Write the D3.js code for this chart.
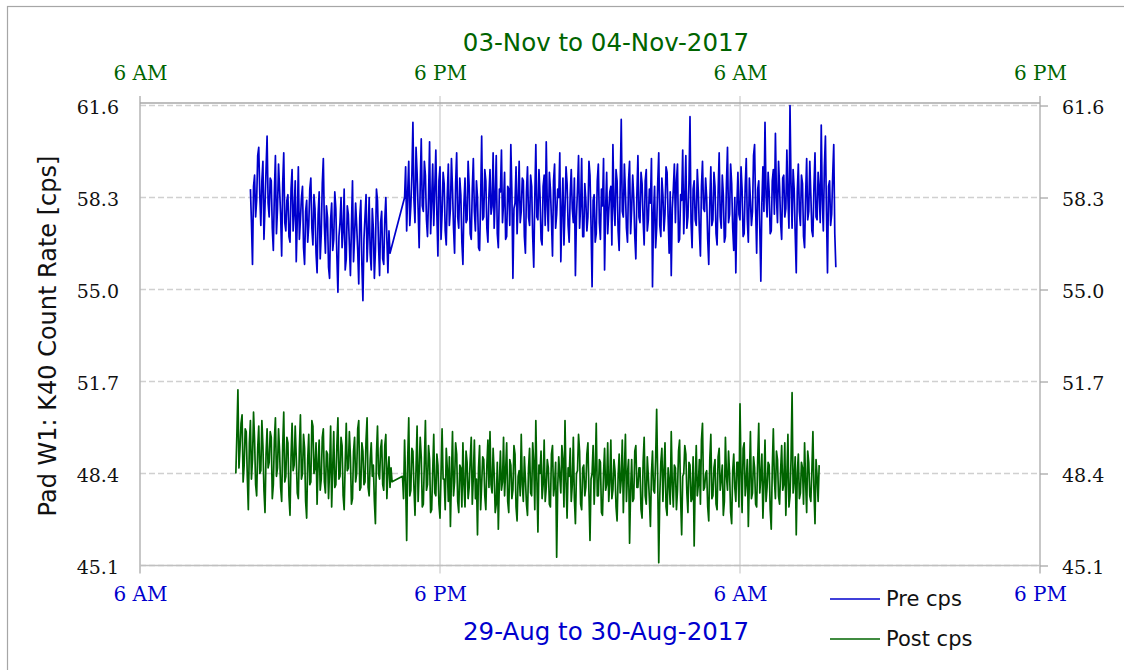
<!DOCTYPE html>
<html><head><meta charset="utf-8">
<script src="https://cdn.jsdelivr.net/npm/d3@7"></script>
<style>body{margin:0;background:#fff}svg{display:block}</style>
</head><body><svg id="c" width="1124" height="670"></svg>
<script>
// ---------- DATA ----------
const stepSeconds = 150;
const preStarts = ["2017-08-29 10:25", "2017-08-29 16:35"];
const preA = [58.6,57.4,55.9,58.7,59.1,57.6,58.2,59.8,60.1,58.4,57.3,58.9,59.6,56.8,58.0,59.3,60.5,58.1,57.6,59.0,
58.9,57.2,56.4,58.5,59.8,57.0,57.9,59.5,58.6,57.7,56.2,58.8,59.9,57.4,57.1,58.2,58.4,56.9,56.7,58.6,
59.3,57.1,57.8,58.9,56.0,57.5,59.4,56.8,57.5,58.3,58.7,56.5,55.9,57.8,58.2,56.7,57.3,58.6,59.0,57.2,
56.6,58.4,57.9,56.3,55.6,57.7,58.5,56.1,57.0,58.8,59.7,57.3,56.3,58.0,57.6,55.8,55.4,57.5,58.1,56.4,
56.8,58.5,57.9,56.2,54.9,56.9,57.4,58.3,56.5,57.1,58.6,55.7,56.1,58.0,57.7,56.6,55.5,57.3,58.9,56.0,
56.9,58.1,57.3,56.4,55.2,57.6,58.2,55.9,54.6,56.8,57.6,58.4,56.0,57.0,58.3,56.3,55.7,57.9,57.2,55.4,
56.4,58.6,58.2,56.6,55.5,57.4,57.8,56.1,55.9,57.5,58.3,56.8,55.6,57.1,56.3];
const preB = [58.3,59.4,57.1,58.5,59.6,57.3,58.0,59.1,61.0,58.2,57.4,60.1,59.2,57.9,56.5,58.7,60.4,58.0,57.8,59.6,
59.1,57.5,56.9,58.3,60.3,57.0,58.2,59.5,57.3,58.6,60.0,57.7,56.2,58.9,59.4,56.8,57.7,59.2,58.8,57.1,
56.6,58.4,59.5,57.3,57.9,59.7,58.6,57.2,56.3,58.8,59.9,57.6,57.2,59.0,58.4,56.7,55.9,58.1,59.0,57.4,
57.5,59.6,58.7,57.0,56.8,58.6,59.7,57.8,57.1,58.9,58.3,56.5,56.4,58.2,60.5,57.5,57.6,59.3,58.9,57.2,
56.7,58.4,59.3,57.7,58.0,59.9,57.2,58.3,59.8,57.0,56.5,58.6,58.5,60.0,57.4,58.1,59.2,56.8,56.9,58.7,
58.6,57.3,60.2,58.5,55.4,57.9,58.1,59.4,57.0,58.2,59.6,57.4,57.8,59.0,58.9,56.9,56.3,58.5,59.4,57.6,
57.3,59.1,58.7,56.9,55.8,58.3,60.2,57.6,57.5,59.3,58.4,56.8,56.6,58.7,59.1,57.3,60.3,58.0,57.1,59.2,
58.6,57.5,56.2,58.9,59.5,57.2,57.7,58.6,58.3,59.9,56.0,57.8,59.0,56.6,57.9,59.4,58.8,57.3,56.7,58.4,
59.3,57.9,57.4,59.0,55.5,57.6,58.6,59.8,57.2,58.0,59.7,56.9,56.9,58.8,58.2,57.1,57.6,59.6,59.1,57.3,
55.1,58.2,58.4,56.7,57.0,58.9,59.5,57.4,56.8,58.6,58.0,59.7,55.7,57.9,59.2,57.0,57.8,58.5,58.7,56.6,
60.2,58.0,57.3,59.3,58.9,57.1,56.4,58.7,61.1,57.8,57.6,59.5,58.5,57.2,56.7,58.9,59.6,57.0,57.9,59.1,
58.3,56.9,56.1,58.4,59.8,57.6,57.4,59.2,58.8,57.5,56.6,58.9,59.3,57.1,57.5,58.6,58.1,59.7,55.1,57.7,
58.7,56.5,57.2,58.8,59.9,57.3,56.9,59.0,58.4,57.1,57.7,59.4,59.2,57.6,56.3,58.5,55.5,57.9,58.6,59.5,
57.4,58.9,59.5,56.7,56.8,58.4,58.2,60.0,57.0,58.3,59.8,57.2,57.6,58.8,61.2,57.4,56.5,58.6,58.9,57.5,
57.3,59.3,58.5,57.1,56.2,58.7,59.6,57.9,57.8,59.0,58.3,56.8,55.9,58.1,59.4,57.3,57.5,59.2,58.7,57.0,
56.6,58.5,59.9,57.6,57.2,59.1,58.4,56.7,56.9,58.8,60.1,57.4,57.7,59.5,58.8,57.2,56.4,58.3,55.6,58.0,
59.2,57.7,57.5,59.4,58.6,56.9,57.0,58.7,59.7,57.5,56.7,59.0,58.2,57.3,57.8,59.8,60.2,57.9,56.3,58.6,
58.9,57.2,55.3,58.1,59.4,57.8,61.0,58.4,57.6,59.2,58.5,57.0,57.1,58.9,59.3,57.7,60.6,58.3,57.4,59.6,
58.7,57.4,56.8,59.0,59.1,57.6,57.9,60.0,58.3,57.2,61.6,58.8,57.2,59.3,58.6,57.0,55.6,58.5,59.5,57.8,
57.3,59.1,58.8,56.9,56.5,58.4,59.7,57.5,57.8,59.6,58.4,57.1,56.9,58.7,59.9,57.6,57.5,59.2,58.6,57.4,
60.9,58.2,57.1,59.4,60.5,57.8,55.6,58.7,58.9,57.3,57.7,59.1,60.2,57.0,55.8];

const postStarts = ["2017-11-03 09:50", "2017-11-03 16:30"];
const postA = [48.4,49.8,51.4,48.6,49.3,50.2,50.5,48.1,48.7,50.0,49.9,48.3,47.1,49.5,50.3,48.2,48.9,50.6,49.6,48.0,
47.6,49.3,50.1,48.4,48.5,50.3,49.4,47.8,47.0,49.1,50.0,48.6,48.8,49.9,49.7,47.5,48.0,49.6,50.4,48.3,
48.6,50.0,49.2,47.9,47.4,49.4,50.6,48.1,48.3,49.7,49.5,47.6,46.9,49.0,50.2,48.5,48.7,50.1,49.0,47.7,
47.5,49.3,50.5,48.2,48.4,49.8,49.3,47.4,46.8,48.9,49.8,48.0,48.1,50.3,50.1,48.4,48.6,49.5,47.3,48.8,
49.6,47.8,48.2,49.7,50.0,48.1,47.7,49.2,49.1,47.5,48.5,50.1,47.2,48.6,49.9,47.9,48.0,49.4,50.4,48.2,
48.3,49.7,49.4,47.6,47.1,48.8,50.2,48.5,48.6,49.9,49.0,47.3,47.5,49.2,49.7,48.1,48.4,50.0,50.3,47.8,
47.9,49.5,49.2,48.0,48.1,49.6,50.4,47.9,47.6,48.9,49.5,48.3,48.7,47.4,46.6,49.1,50.1,48.4,48.2,49.3,
49.6,48.0,47.8,49.4,49.8,47.5,48.5,49.0,47.9,48.6,48.1];
const postB = [48.3,47.5,49.6,48.1,46.0,48.9,50.4,47.6,47.8,49.3,49.2,47.9,46.9,48.6,50.1,47.4,48.5,49.7,49.0,47.2,
47.3,48.8,50.3,47.8,48.0,49.4,48.9,47.0,47.1,48.5,49.8,47.7,47.6,49.1,48.7,47.3,46.8,48.4,50.0,48.2,
48.2,47.1,49.3,48.6,47.4,49.0,46.5,48.3,49.9,47.6,48.1,49.5,49.1,47.4,47.0,48.7,48.6,47.2,49.5,48.0,
47.2,49.2,48.8,47.5,47.9,48.9,49.7,47.3,48.3,49.6,47.5,48.2,46.2,48.6,49.4,47.1,48.0,49.0,48.9,47.6,
47.1,48.7,49.6,47.9,49.9,48.0,47.7,49.3,48.4,47.0,47.3,48.8,46.4,48.1,49.2,47.8,48.1,49.7,47.6,48.5,
49.5,47.4,47.0,48.9,48.7,47.5,47.8,49.4,49.1,47.2,46.7,48.3,48.5,47.6,49.8,48.0,47.4,49.0,48.2,47.3,
46.9,48.6,49.3,47.7,47.6,49.5,48.8,47.1,50.3,48.2,46.3,48.7,48.4,49.2,47.5,48.0,49.6,47.4,47.9,48.9,
48.6,47.3,47.2,49.1,49.4,47.6,48.0,48.8,45.4,47.9,49.0,48.3,47.7,49.4,48.9,47.2,50.3,48.1,46.8,48.6,
48.3,49.3,47.4,48.0,49.7,47.5,46.6,48.4,48.5,49.8,49.2,47.3,47.1,48.6,48.7,47.6,47.9,49.1,49.5,47.7,
46.0,48.2,48.4,49.4,47.3,48.5,50.2,47.6,47.6,48.9,48.8,47.0,46.9,48.4,49.3,47.8,48.0,49.5,47.4,48.1,
49.6,47.5,47.8,48.9,48.5,47.2,46.7,48.3,49.1,47.7,48.2,49.6,47.0,48.5,49.8,47.4,48.4,48.9,45.9,47.8,
48.9,47.4,47.5,49.2,49.4,47.9,47.9,48.6,48.6,47.1,46.8,48.8,49.7,47.6,47.3,49.0,48.3,47.5,46.5,48.4,
49.2,47.8,47.7,48.9,50.7,48.2,45.2,47.6,48.8,49.3,47.4,48.5,49.5,47.2,46.9,48.6,48.1,47.3,49.9,48.0,
47.2,48.7,48.6,47.1,47.8,49.2,49.6,47.5,46.2,48.3,48.4,49.4,49.1,47.7,47.0,48.8,48.7,47.4,47.5,49.0,
45.8,48.1,49.4,47.6,48.0,48.9,47.3,49.6,50.2,47.8,47.9,48.4,48.5,47.2,46.7,48.9,49.8,47.5,47.6,48.6,
48.9,47.3,47.1,49.0,49.3,47.8,48.2,48.7,46.9,47.4,49.7,48.3,47.8,49.2,48.4,47.0,46.6,48.5,49.1,47.9,
47.4,48.8,48.8,47.2,50.9,48.4,47.0,49.3,49.5,47.6,48.1,48.9,46.5,48.2,49.9,47.5,47.7,49.0,48.6,47.3,
47.2,48.9,50.2,47.7,48.3,49.1,46.8,48.0,49.6,47.4,47.9,48.8,48.7,47.1,46.4,48.6,50.0,48.2,47.5,49.2,
48.9,47.6,47.3,48.5,49.4,47.8,48.0,49.5,46.9,48.3,49.8,47.2,47.6,48.9,51.3,47.7,48.2,49.0,46.2,48.4,
49.1,47.5,47.7,48.8,48.6,47.3,49.5,48.1,47.0,49.2,48.8,47.6,47.4,48.5,49.9,47.8,46.6,48.9,48.3,47.4,
48.7];

const bottomDomain = ["2017-08-29 06:00", "2017-08-30 18:00"];
const topDomain = ["2017-11-03 06:00", "2017-11-04 18:00"];
const yTicks = [45.1, 48.4, 51.7, 55.0, 58.3, 61.6];
const seriesNames = ["Pre cps", "Post cps"];
const topTitle = "03-Nov to 04-Nov-2017";
const bottomTitle = "29-Aug to 30-Aug-2017";
const yTitle = "Pad W1: K40 Count Rate [cps]";

// ---------- DRAW ----------
const parse = d3.timeParse("%Y-%m-%d %H:%M");
const BLUE = "#0000cd", GREEN = "#006400";
const L = 140, R = 1040, T = 103, B = 565.5;
const svg = d3.select("#c");

const xB = d3.scaleTime().domain(bottomDomain.map(parse)).range([L, R]);
const xT = d3.scaleTime().domain(topDomain.map(parse)).range([L, R]);
const y = d3.scaleLinear().domain([45.1, 61.69]).range([B, T]);

function build(starts, segs) {
  const pts = [];
  segs.forEach((seg, s) => {
    const t0 = parse(starts[s]);
    seg.forEach((v, i) => pts.push({t: d3.timeSecond.offset(t0, stepSeconds * i), v}));
  });
  return pts;
}
const preData = build(preStarts, [preA, preB]);
const postData = build(postStarts, [postA, postB]);

// outer frame
svg.append("rect").attr("x", 7.5).attr("y", 6.5).attr("width", 1130).attr("height", 680)
  .attr("fill", "none").attr("stroke", "#a6a6a6").attr("stroke-width", 1.2);

const fmtT = d3.timeFormat("%-I %p");
const tvB = d3.timeHour.range(xB.domain()[0], d3.timeMinute.offset(xB.domain()[1], 1), 12);
const tvT = d3.timeHour.range(xT.domain()[0], d3.timeMinute.offset(xT.domain()[1], 1), 12);

// horizontal dashed grid
svg.append("g").selectAll("line").data(yTicks).join("line")
  .attr("x1", L).attr("x2", R).attr("y1", d => y(d)).attr("y2", d => y(d))
  .attr("stroke", "#d0d0d0").attr("stroke-width", 1.3).attr("stroke-dasharray", "6,3");

// vertical grid (bottom time ticks)
svg.append("g").selectAll("line").data(tvB).join("line")
  .attr("x1", d => xB(d)).attr("x2", d => xB(d)).attr("y1", T - 7).attr("y2", B + 8)
  .attr("stroke", d => (xB(d) === L || xB(d) === R) ? "#b4b4b4" : "#d6d6d6").attr("stroke-width", 1.5);

// top/bottom axis lines
svg.append("line").attr("x1", L).attr("x2", R).attr("y1", T).attr("y2", T).attr("stroke", "#a8a8a8").attr("stroke-width", 1.5);
svg.append("line").attr("x1", L).attr("x2", R).attr("y1", B).attr("y2", B).attr("stroke", "#c0c0c0").attr("stroke-width", 1.5);

// axes (labels)
const serif = "'DejaVu Serif', serif";
const sans = "'DejaVu Sans', Verdana, sans-serif";
function styleAxis(g, color, size) {
  g.select(".domain").remove();
  g.selectAll("text").attr("fill", color).style("font-family", serif).style("font-size", size);
}
const gB = svg.append("g").attr("transform", `translate(0,${B})`)
  .call(d3.axisBottom(xB).tickValues(tvB).tickFormat(fmtT).tickSize(0).tickPadding(21));
styleAxis(gB, BLUE, "20px");
const gT = svg.append("g").attr("transform", `translate(0,${T})`)
  .call(d3.axisTop(xT).tickValues(tvT).tickFormat(fmtT).tickSize(0).tickPadding(23));
styleAxis(gT, GREEN, "20px");
const gL = svg.append("g").attr("transform", `translate(${L},0)`)
  .call(d3.axisLeft(y).tickValues(yTicks).tickFormat(d3.format(".1f")).tickSize(0).tickPadding(21));
styleAxis(gL, "#111", "19px");
gL.selectAll("text").attr("dy", "0.4em");
const gR = svg.append("g").attr("transform", `translate(${R},0)`)
  .call(d3.axisRight(y).tickValues(yTicks).tickFormat(d3.format(".1f")).tickSize(8).tickPadding(14));
styleAxis(gR, "#111", "19px");
gR.selectAll("line").attr("stroke", "#a8a8a8").attr("stroke-width", 1.3);
gR.selectAll("text").attr("dy", "0.4em");
gB.selectAll("line").remove(); gT.selectAll("line").remove(); gL.selectAll("line").remove();

// series
const lineB = d3.line().x(d => xB(d.t)).y(d => y(d.v));
const lineT = d3.line().x(d => xT(d.t)).y(d => y(d.v));
svg.append("path").datum(postData).attr("d", lineT).attr("fill", "none")
  .attr("stroke", GREEN).attr("stroke-width", 1.7).attr("stroke-linejoin", "round");
svg.append("path").datum(preData).attr("d", lineB).attr("fill", "none")
  .attr("stroke", BLUE).attr("stroke-width", 1.7).attr("stroke-linejoin", "round");

// titles
svg.append("text").attr("x", 606).attr("y", 51).attr("text-anchor", "middle")
  .attr("fill", GREEN).style("font-family", sans).style("font-size", "24.5px").text(topTitle);
svg.append("text").attr("x", 606).attr("y", 640).attr("text-anchor", "middle")
  .attr("fill", BLUE).style("font-family", sans).style("font-size", "24.5px").text(bottomTitle);
svg.append("text").attr("transform", "translate(56,336) rotate(-90)").attr("text-anchor", "middle")
  .attr("fill", "#111").style("font-family", sans).style("font-size", "24px").text(yTitle);

// legend
const leg = svg.append("g");
[BLUE, GREEN].forEach((c, i) => {
  const yy = 599 + 40 * i;
  leg.append("line").attr("x1", 830).attr("x2", 880).attr("y1", yy).attr("y2", yy)
    .attr("stroke", c).attr("stroke-width", 1.5);
  leg.append("text").attr("x", 886).attr("y", yy).attr("dy", "0.35em")
    .attr("fill", "#111").style("font-family", sans).style("font-size", "21px").text(seriesNames[i]);
});
</script></body></html>
